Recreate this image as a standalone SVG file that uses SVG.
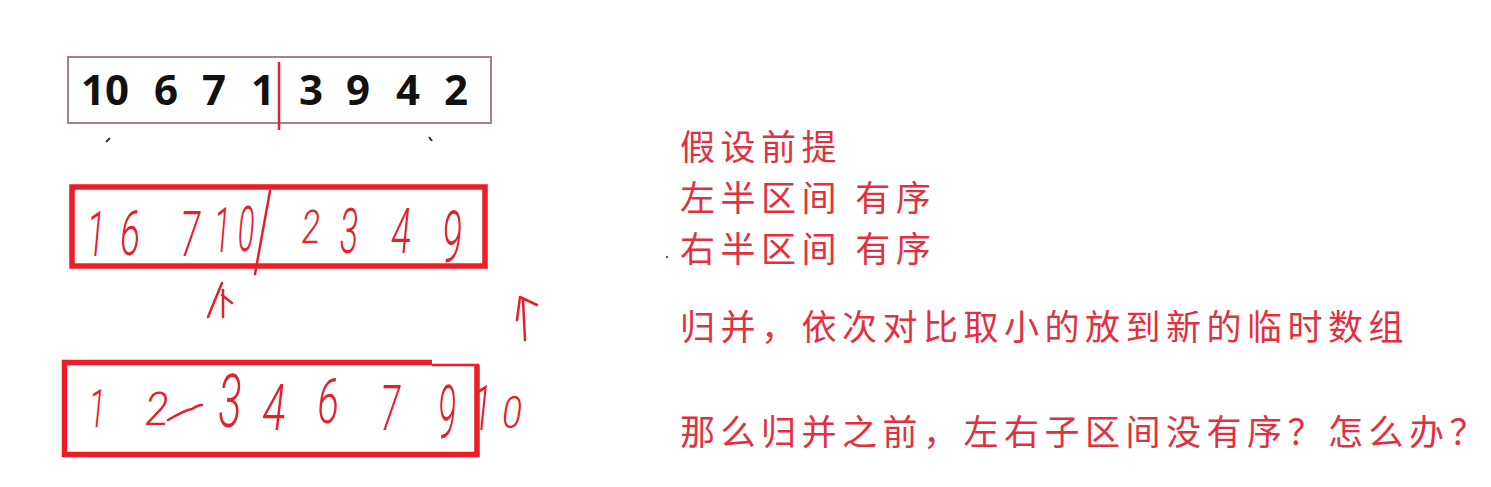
<svg xmlns="http://www.w3.org/2000/svg" width="1491" height="487" viewBox="0 0 1491 487">
<style>
.num{font-family:"Open Sans","DejaVu Sans",sans-serif;font-weight:700;font-size:42px;fill:#111;text-anchor:middle}
.hw{font-family:Roboto,"DejaVu Sans",sans-serif;font-weight:300;font-style:italic;font-size:62px;fill:#e4202c;text-anchor:middle}
.cn{font-family:"Noto Sans CJK SC",sans-serif;font-size:35px;fill:#e23040;letter-spacing:5.5px}
.ink{fill:none;stroke:#e4202c;stroke-width:2.5;stroke-linecap:round;stroke-linejoin:round}
.box{fill:none;stroke:#ee1c25;stroke-width:5.5}
</style>
<rect width="1491" height="487" fill="#fff"/>
<g id="array-original">
<rect x="68" y="57" width="423" height="66" fill="none" stroke="#a88088" stroke-width="2"/>
<text class="num" y="105"><tspan x="105">10</tspan><tspan x="166">6</tspan><tspan x="214">7</tspan><tspan x="263">1</tspan><tspan x="311">3</tspan><tspan x="358">9</tspan><tspan x="408">4</tspan><tspan x="456">2</tspan></text>
<path d="M279 62 L279 130" stroke="#e4202c" stroke-width="2.5" fill="none"/>
<path d="M106 142 L110 138" stroke="#333" stroke-width="2" fill="none"/>
<path d="M429 137 L432 141" stroke="#333" stroke-width="2" fill="none"/>
</g>
<g id="array-sorted-halves">
<rect class="box" x="72" y="187" width="413" height="79"/>
<g transform="translate(96,256) scale(0.55,1)"><text class="hw">1</text></g>
<g transform="translate(130,255) scale(0.6,1)"><text class="hw">6</text></g>
<g transform="translate(190,256) scale(0.6,1)"><text class="hw">7</text></g>
<g transform="translate(222,252) scale(0.5,1)"><text class="hw">1</text></g>
<g transform="translate(246,251) scale(0.5,1)"><text class="hw">0</text></g>
<path class="ink" d="M270 191 L255 274"/>
<g transform="translate(311,243) scale(0.55,0.75)"><text class="hw">2</text></g>
<g transform="translate(349,253) scale(0.55,1)"><text class="hw">3</text></g>
<g transform="translate(401,253) scale(0.6,1)"><text class="hw">4</text></g>
<g transform="translate(452,262) scale(0.6,1.15)"><text class="hw">9</text></g>
</g>
<g id="pointers">
<path class="ink" d="M208 317 L222 283 M223 290 L223 317 M222 295 L232 303"/>
<path class="ink" d="M525 340 L523 300 M517 320 L520 297 L537 305"/>
</g>
<g id="array-merged">
<path d="M62 362.5 L432 362.5" stroke="#ee1c25" stroke-width="5.5" fill="none"/>
<path d="M432 365 L479 365" stroke="#ee1c25" stroke-width="2.5" fill="none"/>
<path d="M477 365 L477 454.5 L64.5 454.5 L64.5 360" stroke="#ee1c25" stroke-width="5.5" fill="none"/>
<g transform="translate(97,427) scale(0.5,0.85)"><text class="hw">1</text></g>
<g transform="translate(157,425) scale(0.7,0.75)"><text class="hw">2</text></g>
<path class="ink" d="M168 420 Q185 410 192 409 Q198 405 202 405"/>
<g transform="translate(230,427) scale(0.7,1.2)"><text class="hw">3</text></g>
<g transform="translate(274,430) scale(0.7,1.05)"><text class="hw">4</text></g>
<g transform="translate(328,423) scale(0.65,1)"><text class="hw">6</text></g>
<g transform="translate(390,430) scale(0.6,1)"><text class="hw">7</text></g>
<g transform="translate(447,438) scale(0.55,1.2)"><text class="hw">9</text></g>
<g transform="translate(482,430) scale(0.6,1)"><text class="hw">1</text></g>
<g transform="translate(512,428) scale(0.6,0.7)"><text class="hw">0</text></g>
</g>
<g id="notes">
<text class="cn" x="680" y="160">假设前提</text>
<text class="cn" x="680" y="211">左半区间 有序</text>
<circle cx="667" cy="257" r="1.2" fill="#555"/>
<text class="cn" x="680" y="262">右半区间 有序</text>
<text class="cn" x="680" y="340">归并，依次对比取小的放到新的临时数组</text>
<text class="cn" x="680" y="445">那么归并之前，左右子区间没有序？怎么办？</text>
</g>
</svg>
